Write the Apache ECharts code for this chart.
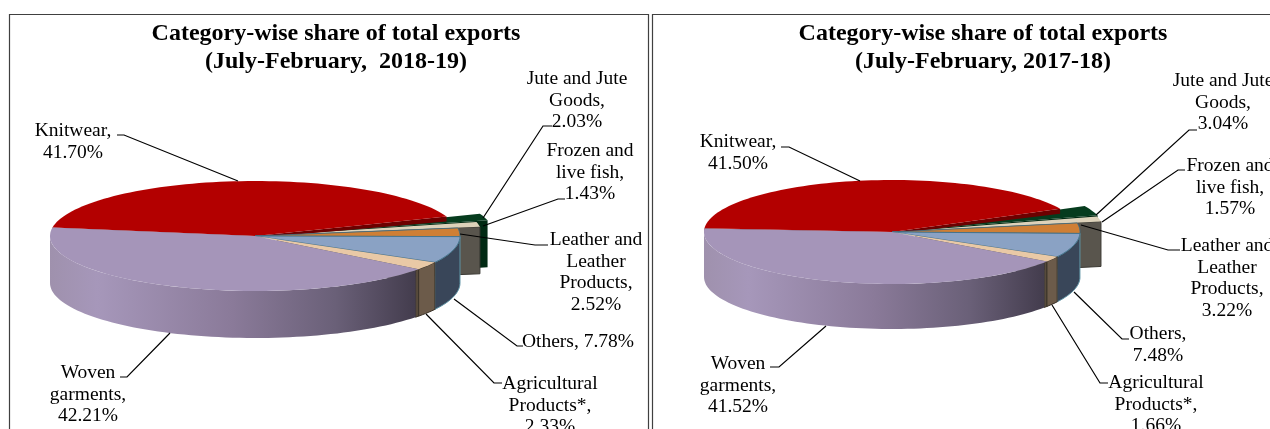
<!DOCTYPE html>
<html>
<head>
<meta charset="utf-8">
<script src="https://cdn.jsdelivr.net/npm/echarts@6/dist/echarts.min.js"></script>
<style>
html, body { margin: 0; padding: 0; background: #fff; }
#chart { width: 1270px; height: 429px; }
</style>
</head>
<body>
<div id="chart"></div>
<script>
// slices run clockwise, same order in both years
var categories = ['Knitwear', 'Jute and Jute Goods', 'Frozen and live fish', 'Leather and Leather Products', 'Others', 'Agricultural Products*', 'Woven garments'];
var values2018 = [41.70, 2.03, 1.43, 2.52, 7.78, 2.33, 42.21];
var values2017 = [41.50, 3.04, 1.57, 3.22, 7.48, 1.66, 41.52];
var labels2018 = ['Knitwear,\n41.70%', 'Jute and Jute\nGoods,\n2.03%', 'Frozen and\nlive fish,\n1.43%', 'Leather and\nLeather\nProducts,\n2.52%', 'Others, 7.78%', 'Agricultural\nProducts*,\n2.33%', 'Woven\ngarments,\n42.21%'];
var labels2017 = ['Knitwear,\n41.50%', 'Jute and Jute\nGoods,\n3.04%', 'Frozen and\nlive fish,\n1.57%', 'Leather and\nLeather\nProducts,\n3.22%', 'Others,\n7.48%', 'Agricultural\nProducts*,\n1.66%', 'Woven\ngarments,\n41.52%'];
var title2018 = 'Category-wise share of total exports\n(July-February,  2018-19)';
var title2017 = 'Category-wise share of total exports\n(July-February, 2017-18)';

var topColors = ['#b30000', '#063c1e', '#ddd2ba', '#cf7f35', '#8aa2c4', '#e9c9a6', '#a595b9'];
var FONT = '"Liberation Serif", "Times New Roman", serif';

var panels = [{
    values: values2018, labels: labels2018, title: title2018, titleX: 336,
    cx: 255, cy: 236, rx: 205, ry: 55, depth: 47, startAngle: -81,
    explode: [0, 0.17, 0.11, 0, 0, 0, 0],
    labelPos: [[73, 120], [577, 68], [590, 140], [596, 229], [578, 331], [550, 373], [88, 362]],
    leaders: [
        [[117, 135], [124, 135], [238, 181]],
        [[552, 126], [543, 126], [483, 218]],
        [[565, 199], [558, 199], [483, 226]],
        [[548, 245], [535, 245], [460, 234]],
        [[523, 346], [517, 346], [454, 299]],
        [[502, 383], [494, 383], [426, 314]],
        [[120, 377], [127, 377], [170, 333]]
    ]
}, {
    values: values2017, labels: labels2017, title: title2017, titleX: 983,
    cx: 892, cy: 232, rx: 188, ry: 52, depth: 45, startAngle: -86,
    explode: [0, 0.14, 0.13, 0, 0, 0, 0],
    labelPos: [[738, 131], [1223, 70], [1230, 155], [1227, 235], [1158, 323], [1156, 372], [738, 353]],
    leaders: [
        [[781, 147], [789, 147], [860, 181]],
        [[1197, 130], [1189, 130], [1096, 215]],
        [[1185, 170], [1178, 170], [1102, 222]],
        [[1180, 250], [1168, 250], [1081, 225]],
        [[1129, 339], [1122, 339], [1074, 292]],
        [[1108, 383], [1100, 383], [1052, 305]],
        [[770, 367], [779, 367], [826, 326]]
    ]
}];

function rad(d) { return d * Math.PI / 180; }

// start and end angle of every slice, from the values
function sliceAngles(p) {
    var out = [], a = p.startAngle;
    for (var i = 0; i < p.values.length; i++) {
        var b = a + p.values[i] * 3.6;
        out.push([a, b]);
        a = b;
    }
    return out;
}

function pt(p, t, off, dy) {
    return [p.cx + off[0] + p.rx * Math.sin(rad(t)), p.cy + off[1] + dy - p.ry * Math.cos(rad(t))];
}

function arc(p, a, b, off, dy) {
    var pts = [], n = Math.max(2, Math.ceil(Math.abs(b - a) / 2));
    for (var i = 0; i <= n; i++) pts.push(pt(p, a + (b - a) * i / n, off, dy));
    return pts;
}

function poly(points, fill, stroke, lw) {
    return {
        type: 'polygon',
        shape: { points: points },
        style: { fill: fill, stroke: stroke || null, lineWidth: lw || 0 }
    };
}

// outer wall of the visible front part only
function wall(p, a, b, fill, stroke) {
    a = Math.max(a, 90);
    b = Math.min(b, 270);
    if (b <= a) return null;
    var pts = arc(p, a, b, [0, 0], 0).concat(arc(p, b, a, [0, 0], p.depth));
    return poly(pts, fill, stroke, stroke ? 1 : 0);
}

function wovenFill() {
    return new echarts.graphic.LinearGradient(0, 0, 1, 0, [
        { offset: 0, color: '#9f91ad' },
        { offset: 0.13, color: '#a697ba' },
        { offset: 0.5, color: '#8a7a99' },
        { offset: 0.78, color: '#6a6078' },
        { offset: 1, color: '#433c4d' }
    ]);
}

function renderSlice(p, angles, params, api) {
    var idx = api.value(0);
    var a = angles[idx][0], b = angles[idx][1];
    var c = [];
    var mid = (a + b) / 2, e = p.explode[idx];
    var off = [e * p.rx * Math.sin(rad(mid)), -e * p.ry * Math.cos(rad(mid))];
    var tip = [p.cx + off[0], p.cy + off[1]];

    if (e > 0) {
        // exploded slivers only show their cut face
        var end = pt(p, b, off, 0);
        c.push(poly([tip, end, [end[0], end[1] + p.depth], [tip[0], tip[1] + p.depth]], idx === 1 ? '#012a13' : '#59554d', idx === 1 ? null : '#3c3a34', idx === 1 ? 0 : 1));
    }
    if (idx === 0) {
        var l = pt(p, a, off, 0), r = pt(p, b, off, 0);
        c.push(poly([tip, l, [l[0], l[1] + 5], [tip[0], tip[1] + 2]], '#6d0000'));
        c.push(poly([tip, r, [r[0], r[1] + 5], [tip[0], tip[1] + 2]], '#6d0000'));
    }
    if (idx === 4) c.push(wall(p, a, b, '#394659', '#5f94a6'));
    if (idx === 5) {
        c.push(wall(p, b, b + 1.4, '#574a3b', '#3a3228'));
        c.push(wall(p, a, b, '#6c5b4a', '#3a3228'));
    }
    if (idx === 6) c.push(wall(p, a + 1.4, b, wovenFill()));

    var top = [tip].concat(arc(p, a, b, off, 0));
    c.push(poly(top, topColors[idx], idx === 4 || idx === 3 ? '#3d6f86' : null, idx === 4 || idx === 3 ? 0.8 : 0));
    return { type: 'group', children: c.filter(Boolean) };
}

function renderNote(p, params, api) {
    var i = api.value(0);
    var pos = p.labelPos[i];
    return {
        type: 'group',
        children: [{
            type: 'polyline',
            shape: { points: p.leaders[i] },
            style: { fill: null, stroke: '#000', lineWidth: 1.2 }
        }, {
            type: 'text',
            style: {
                text: p.labels[i], x: pos[0], y: pos[1],
                textAlign: 'center', textVerticalAlign: 'top',
                fill: '#000', font: '19.5px ' + FONT, lineHeight: 21.6
            }
        }]
    };
}

var series = [], titles = [];
panels.forEach(function (p) {
    var angles = sliceAngles(p);
    // painted back to front
    var order = [1, 2, 0, 3, 4, 5, 6];
    series.push({
        type: 'custom',
        coordinateSystem: 'none',
        silent: true,
        renderItem: function (params, api) { return renderSlice(p, angles, params, api); },
        data: order.map(function (i) { return { name: categories[i], value: [i, p.values[i]] }; })
    });
    series.push({
        type: 'custom',
        coordinateSystem: 'none',
        silent: true,
        z: 5,
        renderItem: function (params, api) { return renderNote(p, params, api); },
        data: categories.map(function (n, i) { return { name: n, value: [i] }; })
    });
    titles.push({
        text: p.title,
        left: p.titleX,
        top: 20,
        padding: 0,
        textAlign: 'center',
        textStyle: { fontFamily: FONT, fontWeight: 'bold', fontSize: 24, lineHeight: 28, color: '#000' }
    });
});

var myChart = echarts.init(document.getElementById('chart'));
myChart.setOption({
    backgroundColor: '#fff',
    animation: false,
    title: titles,
    graphic: [
        { type: 'rect', shape: { x: 9.5, y: 14.5, width: 639, height: 440 }, style: { fill: null, stroke: '#404040', lineWidth: 1.2 } },
        { type: 'rect', shape: { x: 652.5, y: 14.5, width: 640, height: 440 }, style: { fill: null, stroke: '#404040', lineWidth: 1.2 } }
    ],
    series: series
});
</script>
</body>
</html>
